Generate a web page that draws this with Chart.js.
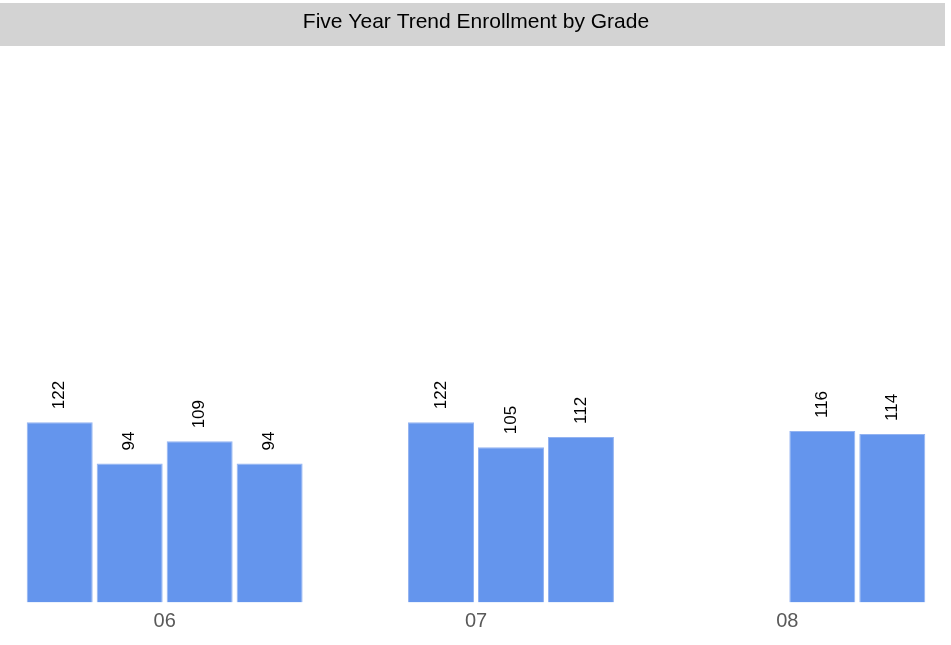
<!DOCTYPE html>
<html lang="en">
<head>
    <meta charset="UTF-8">
    <title>Five Year Trend Enrollment by Grade</title>
    <script src="https://cdn.jsdelivr.net/npm/chart.js"></script>
    <style>
        body {
            margin: 0;
            background-color: #ffffff;
        }
        .chart-box {
            width: 951px;
            height: 645px;
        }
    </style>
</head>
<body>
    <div class="chart-box">
        <canvas id="enrollmentChart"></canvas>
    </div>

    <script>
        // Grades on the x axis
        const grades = ['06', '07', '08'];
        // One series per school year (cohort layout, missing years are null)
        const seriesNames = ['Year 1', 'Year 2', 'Year 3', 'Year 4'];
        const year1 = [122, null, null];
        const year2 = [94, 122, null];
        const year3 = [109, 105, 116];
        const year4 = [94, 112, 114];

        const barFill = '#6495ed';
        const barEdge = '#93b3f1';

        // gray band behind the title
        const titleBand = {
            id: 'titleBand',
            beforeDraw(chart) {
                const ctx = chart.ctx;
                ctx.save();
                ctx.fillStyle = '#d3d3d3';
                ctx.fillRect(0, 3, 945, 43);
                ctx.restore();
            }
        };

        // rotated value labels above each bar
        const valueLabels = {
            id: 'valueLabels',
            afterDatasetsDraw(chart) {
                const ctx = chart.ctx;
                ctx.save();
                ctx.font = '17px "Liberation Sans", Arial, sans-serif';
                ctx.fillStyle = '#000000';
                ctx.textAlign = 'left';
                ctx.textBaseline = 'middle';
                chart.data.datasets.forEach((ds, i) => {
                    const meta = chart.getDatasetMeta(i);
                    meta.data.forEach((bar, j) => {
                        const v = ds.data[j];
                        if (v === null || v === undefined) return;
                        ctx.save();
                        ctx.translate(bar.x, bar.y - 13);
                        ctx.rotate(-Math.PI / 2);
                        ctx.fillText(String(v), 0, 0);
                        ctx.restore();
                    });
                });
                ctx.restore();
            }
        };

        const allSeries = [year1, year2, year3, year4];

        const ctx = document.getElementById('enrollmentChart').getContext('2d');
        const enrollmentChart = new Chart(ctx, {
            type: 'bar',
            data: {
                labels: grades,
                datasets: allSeries.map((vals, i) => ({
                    label: seriesNames[i],
                    data: vals,
                    backgroundColor: barFill,
                    borderColor: barEdge,
                    borderWidth: 1,
                    categoryPercentage: 0.899,
                    barPercentage: 0.943
                }))
            },
            options: {
                responsive: true,
                maintainAspectRatio: false,
                animation: false,
                layout: {
                    padding: { left: 9, right: 8, top: 0, bottom: 4.5 }
                },
                plugins: {
                    legend: { display: false },
                    tooltip: { enabled: false },
                    title: {
                        display: true,
                        text: 'Five Year Trend Enrollment by Grade',
                        color: '#000000',
                        font: { family: '"Liberation Sans", Arial, sans-serif', size: 21, weight: 'normal' },
                        padding: { top: 10, bottom: 10 }
                    }
                },
                scales: {
                    x: {
                        grid: { display: false, drawTicks: false },
                        border: { display: false },
                        ticks: {
                            color: '#595959',
                            padding: 7,
                            font: { family: '"Liberation Sans", Arial, sans-serif', size: 20 }
                        }
                    },
                    y: {
                        display: false,
                        min: 0,
                        max: 377
                    }
                }
            },
            plugins: [titleBand, valueLabels]
        });
    </script>
</body>
</html>
